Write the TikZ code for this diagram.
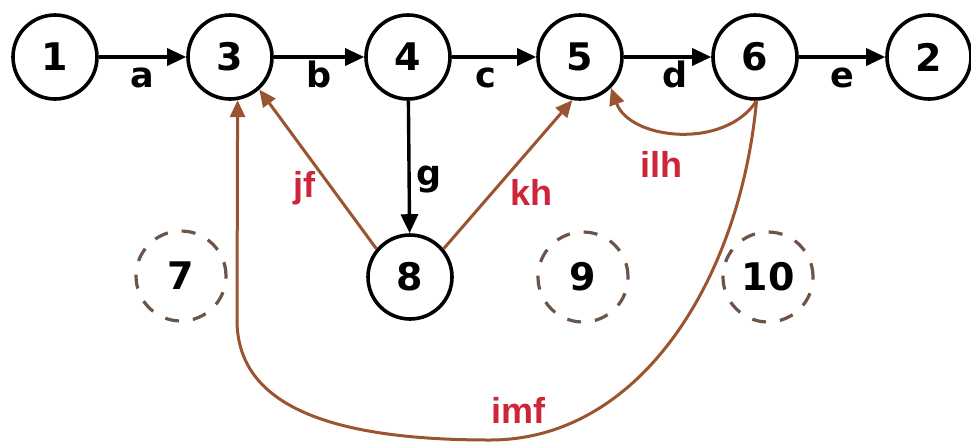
\documentclass[tikz,border=0pt]{standalone}
\usepackage{fontspec}
\setmainfont{DejaVu Sans}
\newfontfamily\lblfont{Liberation Sans}
\usetikzlibrary{arrows.meta}
\definecolor{edgebrown}{HTML}{9A5430}
\definecolor{lblred}{HTML}{CC2638}
\definecolor{dashbrown}{HTML}{6A5548}
\begin{document}
\begin{tikzpicture}[x=1pt,y=-1pt,
  state/.style={circle,draw=black,line width=3.6pt,minimum size=84pt,inner sep=0pt,
    font=\fontsize{38}{40}\selectfont\bfseries},
  ghost/.style={circle,draw=dashbrown,dash pattern=on 14pt off 14pt,line width=3.2pt,
    minimum size=90pt,inner sep=0pt,font=\fontsize{38}{40}\selectfont\bfseries},
  blk/.style={draw=black,line width=3.4pt,-{Triangle[length=19pt,width=17pt]}},
  brn/.style={draw=edgebrown,line width=3pt,-{Triangle[length=17pt,width=15pt]}},
  elbl/.style={font=\fontsize{35}{37}\selectfont\bfseries,inner sep=0pt,anchor=base},
  rlbl/.style={text=lblred,font=\lblfont\fontsize{36}{38}\selectfont\bfseries,inner sep=0pt}]
\useasboundingbox (0,0) rectangle (971,445);
\fill[white] (0,0) rectangle (971,445);
% main nodes
\node[state] (n1) at (55,57) {1};
\node[state] (n3) at (230,57) {3};
\node[state] (n4) at (408,57) {4};
\node[state] (n5) at (580,57) {5};
\node[state] (n6) at (755,57) {6};
\node[state] (n2) at (929,57) {2};
\node[state] (n8) at (410,277) {8};
% dashed nodes
\node[ghost] (n7) at (181,276) {7};
\node[ghost] (n9) at (583,277) {9};
\node[ghost] (n10) at (768,277) {10};
% black edges
\draw[blk] (n1) -- node[elbl,yshift=-30pt] {a} (n3);
\draw[blk] (n3) -- node[elbl,yshift=-30pt] {b} (n4);
\draw[blk] (n4) -- node[elbl,yshift=-30pt,xshift=-8pt] {c} (n5);
\draw[blk] (n5) -- node[elbl,yshift=-30pt,xshift=8pt] {d} (n6);
\draw[blk] (n6) -- node[elbl,yshift=-30pt] {e} (n2);
\draw[blk] (n4) -- node[elbl,anchor=west,xshift=6pt,yshift=-12pt] {g} (n8);
% brown edges
\draw[brn] (n8.140) -- (n3.-48);
\draw[brn] (n8.40) -- (n5.-100);
\draw[brn] (n6.-88) .. controls (725,150) and (630,140) .. (n5.-45);
\draw[brn] (n6.-88) .. controls (740,280) and (640,440) .. (490,440)
  .. controls (340,440) and (237,410) .. (237,320) -- (n3.-80);
% red labels
\node[rlbl] (ljf) at (304,188) {jf};
\node[rlbl] (lkh) at (531,192) {kh};
\node[rlbl] (lilh) at (661,164) {ilh};
\node[rlbl] (limf) at (518,410) {imf};
\end{tikzpicture}
\end{document}
